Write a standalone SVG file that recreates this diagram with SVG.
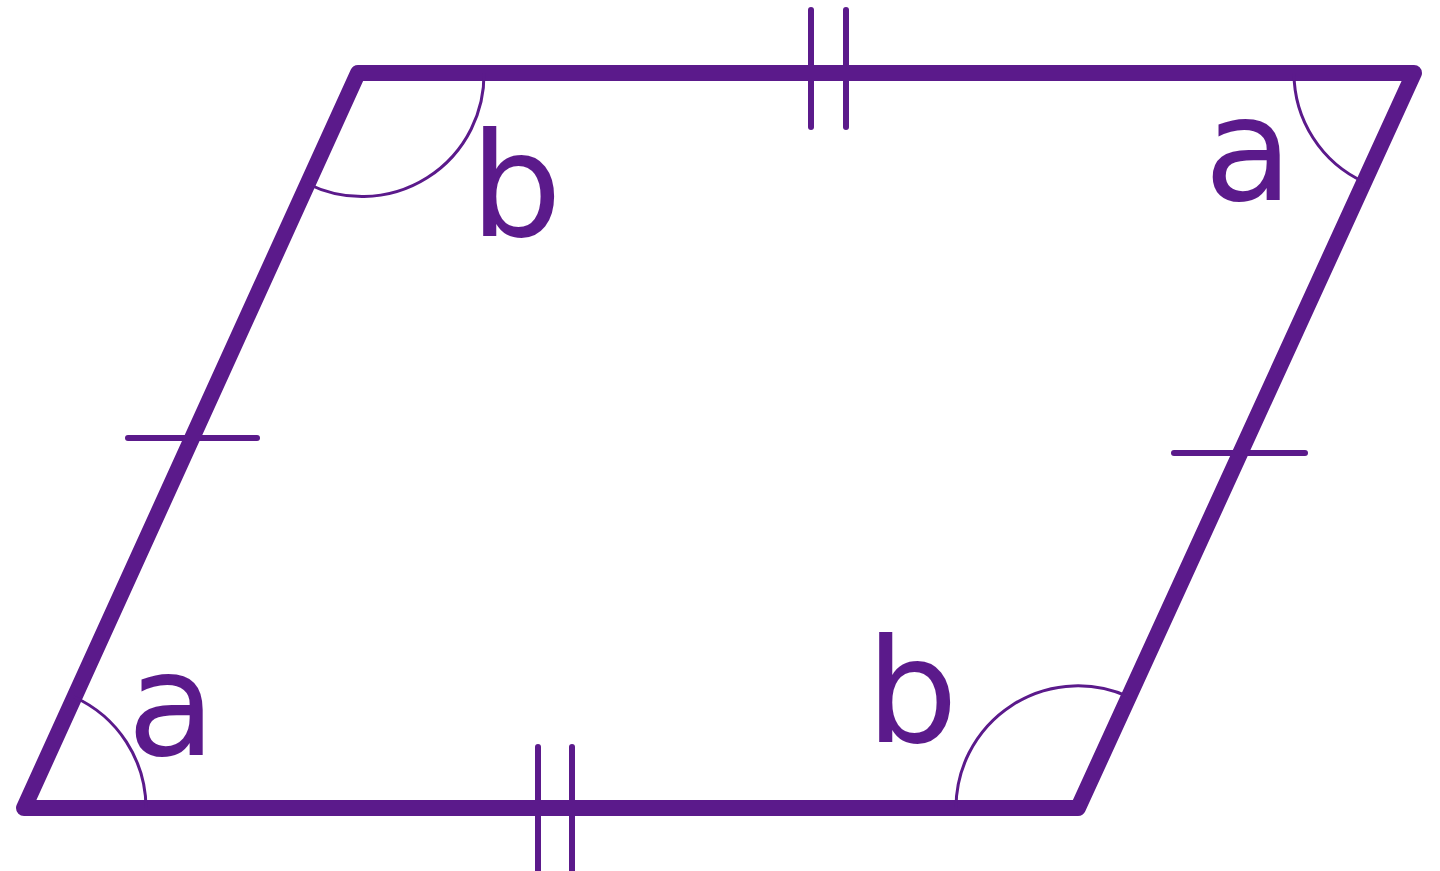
<svg xmlns="http://www.w3.org/2000/svg" width="1440" height="871" viewBox="0 0 1440 871">
<style>
.edge{fill:none;stroke:#5b1a8b;stroke-width:16;stroke-linejoin:round;stroke-linecap:round}
.tick{fill:none;stroke:#5b1a8b;stroke-width:6;stroke-linecap:round}
.arc{fill:none;stroke:#5b1a8b;stroke-width:3}
.lbl{font-family:"DejaVu Sans",Verdana,sans-serif;font-size:145px;fill:#5b1a8b}
</style>
<rect width="1440" height="871" fill="#ffffff"/>
<g id="parallelogram">
<polygon class="edge" points="358,73 1414,73 1078,808 24,808"/>
</g>
<g id="ticks">
<line class="tick" x1="811" y1="10" x2="811" y2="127"/>
<line class="tick" x1="846" y1="10" x2="846" y2="127"/>
<line class="tick" x1="538" y1="747" x2="538" y2="875"/>
<line class="tick" x1="572" y1="747" x2="572" y2="875"/>
<line class="tick" x1="128" y1="438" x2="257" y2="438"/>
<line class="tick" x1="1174" y1="453" x2="1305" y2="453"/>
</g>
<g id="angles">
<path class="arc" d="M484,73 A122,122 0 0 1 308,184"/>
<path class="arc" d="M1294,73 A120,120 0 0 0 1364,182"/>
<path class="arc" d="M74,697 A122,122 0 0 1 146,808"/>
<path class="arc" d="M956,808 A122,122 0 0 1 1129,697"/>
</g>
<g id="labels">
<text class="lbl" x="470" y="236">b</text>
<text class="lbl" x="1204" y="200">a</text>
<text class="lbl" x="127" y="755">a</text>
<text class="lbl" x="866" y="742">b</text>
</g>
</svg>
